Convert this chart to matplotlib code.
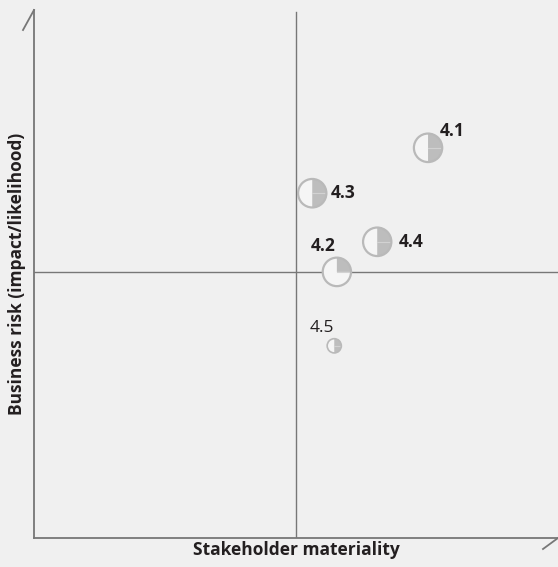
import matplotlib.pyplot as plt
from matplotlib.patches import Circle, Wedge

plt.rcParams['font.family'] = ['Open Sans', 'DejaVu Sans']

# issue data (stakeholder materiality, business risk)
labels = ["4.1", "4.2", "4.3", "4.4", "4.5"]
materiality = [7.52, 5.78, 5.31, 6.55, 5.73]
risk = [7.39, 5.04, 6.53, 5.61, 3.64]
fill_share = [0.5, 0.25, 0.5, 0.5, 0.5]  # shaded part of each circle
big = [True, True, True, True, False]
bold = [True, True, True, True, False]
label_offset = [(24, 17), (-14, 26), (31, 0), (34, 0), (-12, 18)]  # pixels

bg = "#f0f0f0"
line_col = "#777777"
ring_col = "#b9b9b9"

fig = plt.figure(figsize=(5.58, 5.67), dpi=100, facecolor=bg)
ax = fig.add_axes([34 / 558, 29 / 567, 524 / 558, 528 / 567])
ax.set_facecolor(bg)
ax.set_xlim(0, 10)
ax.set_ylim(0, 10)

for s in ["top", "right"]:
    ax.spines[s].set_visible(False)
for s in ["left", "bottom"]:
    ax.spines[s].set_color(line_col)
    ax.spines[s].set_linewidth(1.3)
ax.set_xticks([])
ax.set_yticks([])

# quadrant lines
ax.axvline(5, color=line_col, lw=1.0, ymax=0.996)
ax.axhline(5.03, color=line_col, lw=1.0)

# little slanted stubs at the axis ends
ax.plot([0, -11 / 524], [1, 1 - 20 / 528], transform=ax.transAxes,
        color=line_col, lw=1.3, clip_on=False)
ax.plot([1, 1 - 15 / 524], [0, -11 / 528], transform=ax.transAxes,
        color=line_col, lw=1.3, clip_on=False)

for i in range(len(labels)):
    x, y = materiality[i], risk[i]
    r = 0.27 if big[i] else 0.135
    lw = 1.6 if big[i] else 1.2
    ax.add_patch(Circle((x, y), r, facecolor="#f5f5f5", edgecolor="none", zorder=3))
    start = 90 - 360 * fill_share[i]
    ax.add_patch(Wedge((x, y), r, start, 90, facecolor="#bdbdbd",
                       edgecolor="none", zorder=4))
    ax.plot([x, x + r], [y, y], color="#d2d2d2", lw=0.8, zorder=5)
    ax.add_patch(Circle((x, y), r, facecolor="none", edgecolor=ring_col,
                        lw=lw, zorder=6))
    ax.annotate(labels[i], (x, y), xytext=label_offset[i], textcoords="offset pixels",
                ha="center", va="center", fontsize=12.5,
                fontweight="bold" if bold[i] else "normal", color="#231f20")

ax.set_xlabel("Stakeholder materiality", fontsize=12.5, fontweight="bold",
              color="#231f20", labelpad=2)
ax.set_ylabel("Business risk (impact/likelihood)", fontsize=12.5, fontweight="bold",
              color="#231f20", labelpad=6)

fig.savefig("out.png", dpi=100, facecolor=bg)
